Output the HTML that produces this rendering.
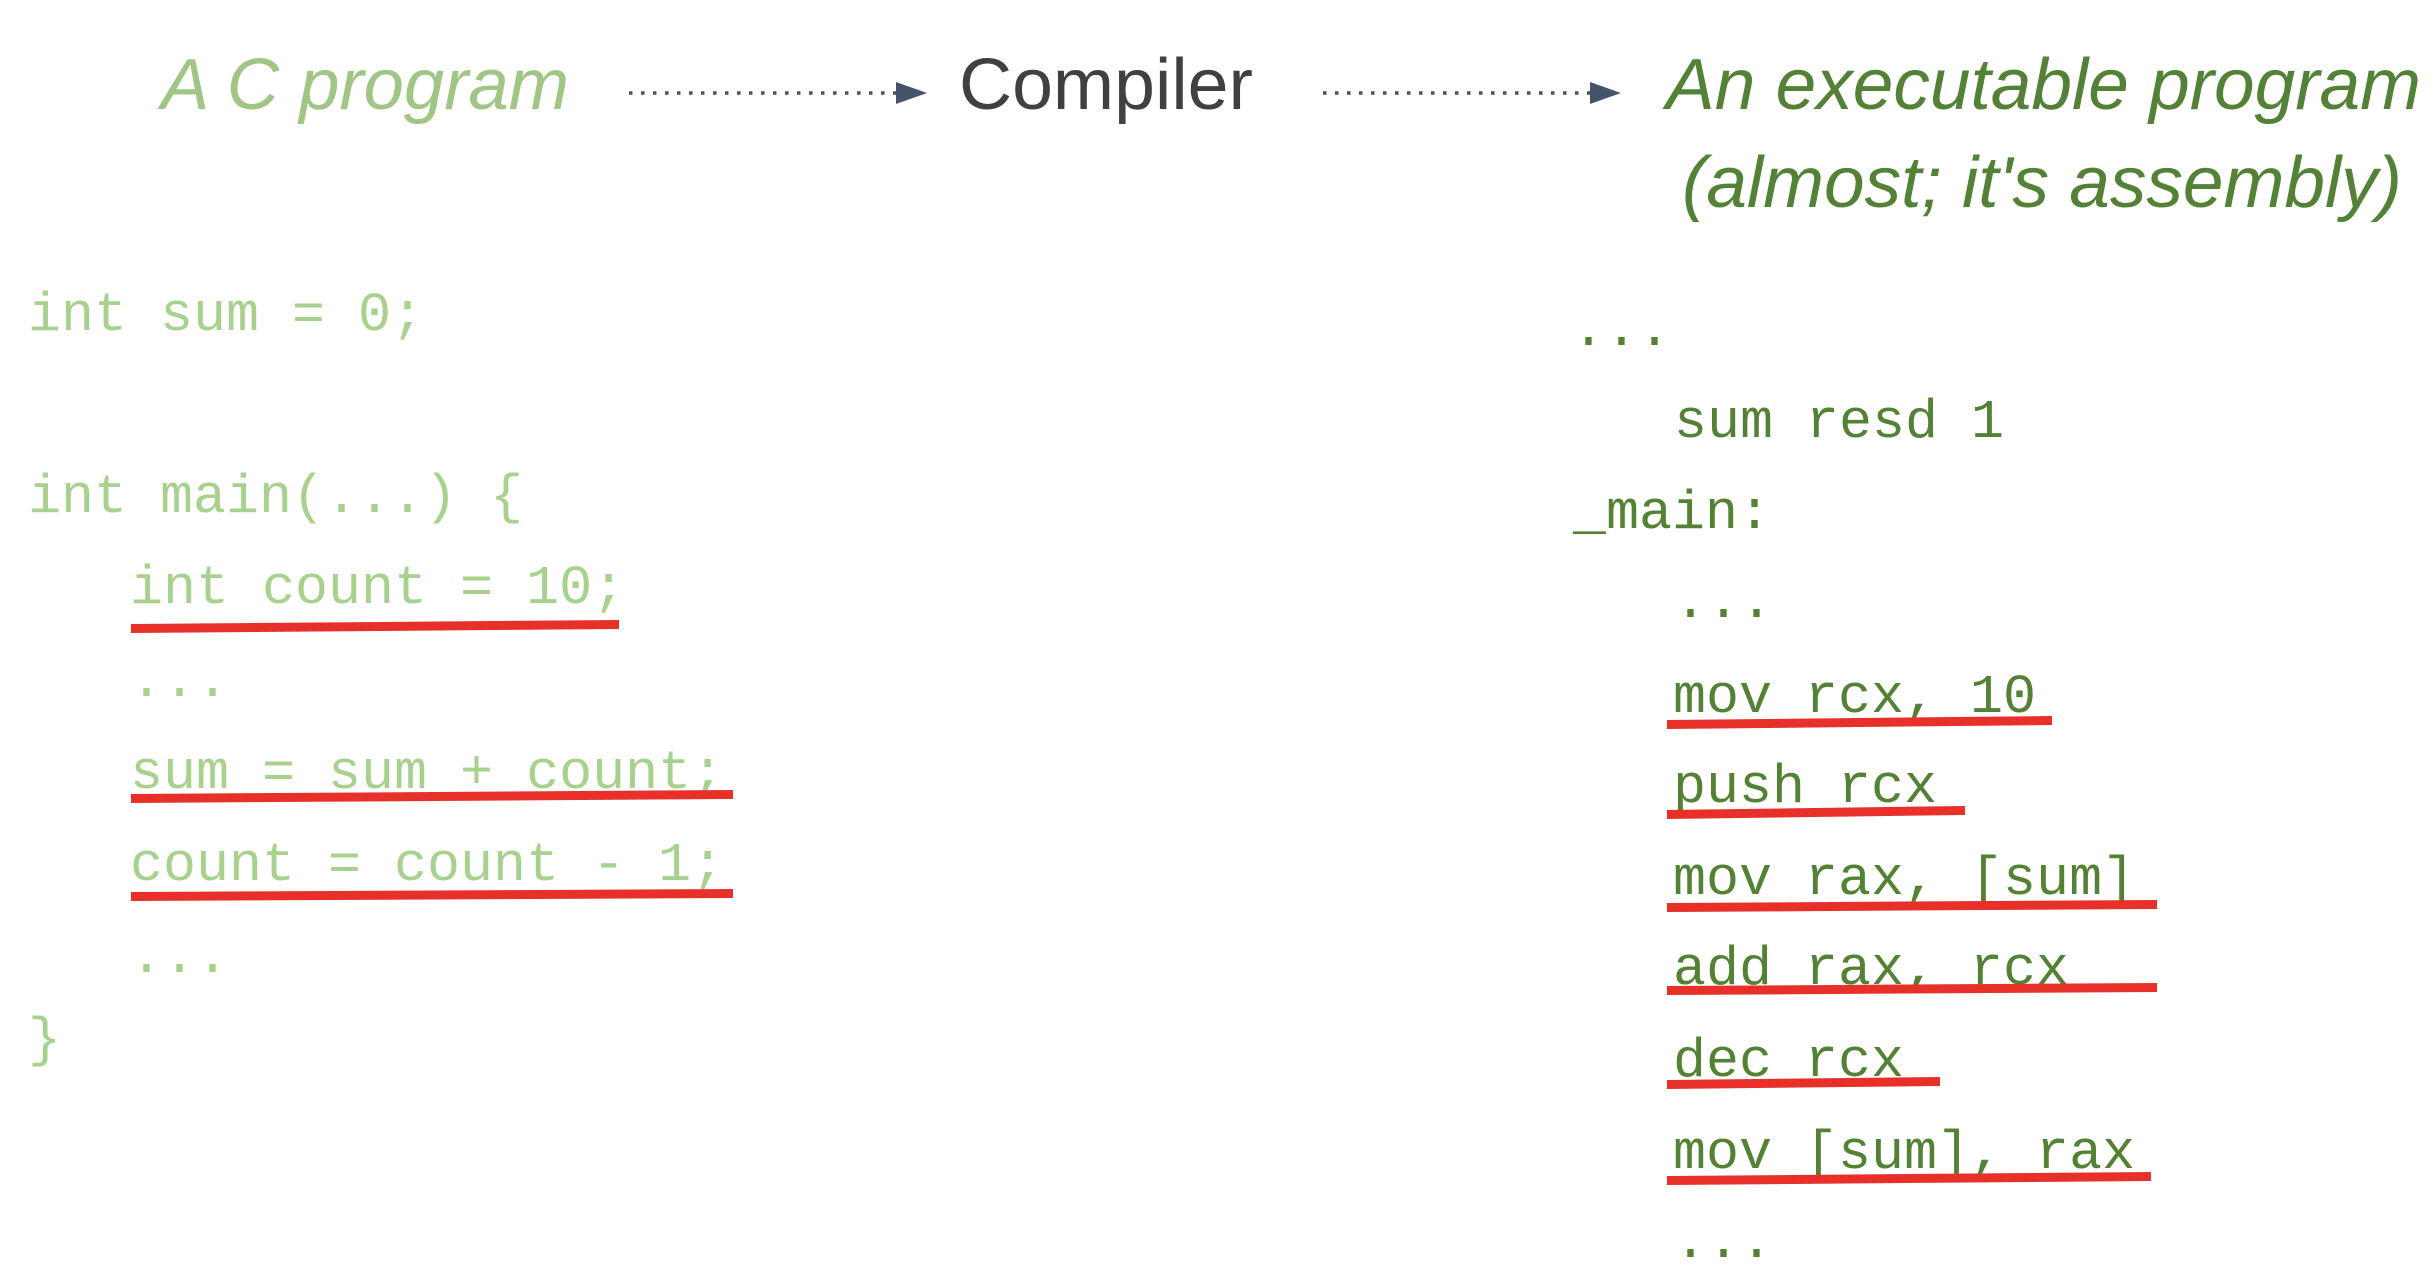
<!DOCTYPE html>
<html><head><meta charset="utf-8"><style>
html,body{margin:0;padding:0;background:#fff;}
svg{display:block;}
.m{font-family:"Liberation Mono",monospace;font-size:55px;}
.l{fill:#a9d18e;}
.r{fill:#548235;}
.h{font-family:"Liberation Sans",sans-serif;font-size:72px;}
</style></head><body>
<svg width="2434" height="1272" viewBox="0 0 2434 1272" xmlns="http://www.w3.org/2000/svg">
<text class="h" x="161" y="109" font-style="italic" fill="#a0c585" textLength="408" lengthAdjust="spacingAndGlyphs">A C program</text>
<text class="h" x="959" y="109" fill="#404040" textLength="294" lengthAdjust="spacingAndGlyphs">Compiler</text>
<text class="h" x="1666" y="109" font-style="italic" fill="#538135" textLength="755" lengthAdjust="spacingAndGlyphs">An executable program</text>
<text class="h" x="1682" y="207" font-style="italic" fill="#538135" textLength="720" lengthAdjust="spacingAndGlyphs">(almost; it's assembly)</text>
<line x1="629" y1="93" x2="897" y2="93" stroke="#44546a" stroke-width="3.5" stroke-dasharray="3.5 8.5"/>
<polygon points="896,82 927,93 896,104" fill="#44546a"/>
<line x1="1323" y1="93" x2="1591" y2="93" stroke="#44546a" stroke-width="3.5" stroke-dasharray="3.5 8.5"/>
<polygon points="1590,82 1621,93 1590,104" fill="#44546a"/>

<g class="m l">
<text x="28" y="330">int sum = 0;</text>
<text x="28" y="512">int main(...) {</text>
<text x="130" y="603">int count = 10;</text>
<text x="130" y="696">...</text>
<text x="130" y="788">sum = sum + count;</text>
<text x="130" y="880">count = count - 1;</text>
<text x="130" y="972">...</text>
<text x="28" y="1055">}</text>
</g>
<g fill="#e8302a">
<polygon points="131,624 619,620 619,629 131,633"/>
<polygon points="131,794 733,790 733,799 131,803"/>
<polygon points="131,892 733,889 733,898 131,901"/>
</g>

<g class="m r">
<text x="1572" y="345">...</text>
<text x="1674" y="437">sum resd 1</text>
<text x="1573" y="528">_main:</text>
<text x="1674" y="617">...</text>
<text x="1673" y="712">mov rcx, 10</text>
<text x="1673" y="802">push rcx</text>
<text x="1673" y="894">mov rax, [sum]</text>
<text x="1673" y="984">add rax, rcx</text>
<text x="1673" y="1076">dec rcx</text>
<text x="1673" y="1168">mov [sum], rax</text>
<text x="1674" y="1257">...</text>
</g>
<g fill="#e8302a">
<polygon points="1667,720 2052,716 2052,725 1667,729"/>
<polygon points="1667,810 1965,806 1965,815 1667,819"/>
<polygon points="1667,903 2157,900 2157,909 1667,912"/>
<polygon points="1667,986 2157,983 2157,992 1667,995"/>
<polygon points="1667,1080 1940,1077 1940,1086 1667,1089"/>
<polygon points="1667,1176 2151,1172 2151,1181 1667,1185"/>
</g>
</svg>
</body></html>
